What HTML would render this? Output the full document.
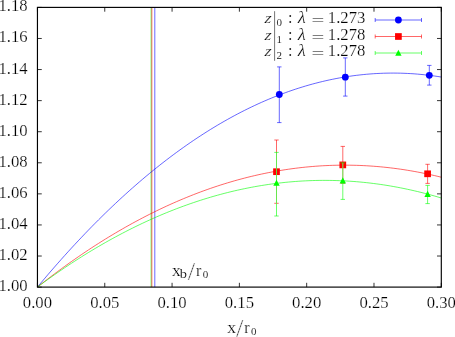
<!DOCTYPE html>
<html><head><meta charset="utf-8"><title>plot</title>
<style>html,body{margin:0;padding:0;background:#fff;}svg{display:block;}text{font-family:"Liberation Serif",serif;fill:#000;}</style>
</head><body>
<svg width="455" height="337" viewBox="0 0 455 337">
<rect x="0" y="0" width="455" height="337" fill="#ffffff"/>
<g stroke="#000" stroke-width="0.80" fill="none">
<path d="M37.45 287.10V282.80 M37.45 7.40V11.70"/>
<path d="M104.76 287.10V282.80 M104.76 7.40V11.70"/>
<path d="M172.07 287.10V282.80 M172.07 7.40V11.70"/>
<path d="M239.38 287.10V282.80 M239.38 7.40V11.70"/>
<path d="M306.68 287.10V282.80 M306.68 7.40V11.70"/>
<path d="M373.99 287.10V282.80 M373.99 7.40V11.70"/>
<path d="M441.30 287.10V282.80 M441.30 7.40V11.70"/>
<path d="M37.45 287.10H41.75 M441.30 287.10H437.00"/>
<path d="M37.45 256.02H41.75 M441.30 256.02H437.00"/>
<path d="M37.45 224.94H41.75 M441.30 224.94H437.00"/>
<path d="M37.45 193.87H41.75 M441.30 193.87H437.00"/>
<path d="M37.45 162.79H41.75 M441.30 162.79H437.00"/>
<path d="M37.45 131.71H41.75 M441.30 131.71H437.00"/>
<path d="M37.45 100.63H41.75 M441.30 100.63H437.00"/>
<path d="M37.45 69.56H41.75 M441.30 69.56H437.00"/>
<path d="M37.45 38.48H41.75 M441.30 38.48H437.00"/>
<path d="M37.45 7.40H41.75 M441.30 7.40H437.00"/>
</g>
<path d="M151.10 287.10V7.40" stroke="#00ff00" stroke-width="0.60" fill="none"/>
<path d="M151.85 287.10V7.40" stroke="#ff0000" stroke-width="0.60" fill="none"/>
<path d="M154.80 287.10V7.40" stroke="#0000ff" stroke-width="0.60" fill="none"/>
<polyline points="37.50,287.00 40.89,282.94 44.29,278.91 47.68,274.92 51.07,270.98 54.47,267.07 57.86,263.20 61.25,259.37 64.65,255.58 68.04,251.82 71.43,248.11 74.83,244.44 78.22,240.80 81.61,237.21 85.01,233.65 88.40,230.13 91.79,226.65 95.19,223.21 98.58,219.81 101.97,216.44 105.37,213.12 108.76,209.84 112.15,206.59 115.55,203.38 118.94,200.22 122.33,197.09 125.73,194.00 129.12,190.95 132.51,187.94 135.91,184.96 139.30,182.03 142.69,179.13 146.08,176.28 149.48,173.46 152.87,170.68 156.26,167.94 159.66,165.24 163.05,162.58 166.44,159.96 169.84,157.38 173.23,154.83 176.62,152.33 180.02,149.86 183.41,147.44 186.80,145.05 190.20,142.70 193.59,140.39 196.98,138.12 200.38,135.89 203.77,133.69 207.16,131.54 210.56,129.42 213.95,127.35 217.34,125.31 220.74,123.31 224.13,121.35 227.52,119.43 230.92,117.55 234.31,115.71 237.70,113.90 241.10,112.14 244.49,110.41 247.88,108.73 251.28,107.08 254.67,105.47 258.06,103.90 261.46,102.37 264.85,100.88 268.24,99.43 271.64,98.01 275.03,96.64 278.42,95.30 281.82,94.01 285.21,92.75 288.60,91.53 292.00,90.35 295.39,89.21 298.78,88.11 302.18,87.05 305.57,86.02 308.96,85.04 312.36,84.09 315.75,83.19 319.14,82.32 322.54,81.49 325.93,80.70 329.32,79.95 332.72,79.24 336.11,78.56 339.50,77.93 342.89,77.33 346.29,76.78 349.68,76.26 353.07,75.78 356.47,75.34 359.86,74.94 363.25,74.58 366.65,74.26 370.04,73.98 373.43,73.73 376.83,73.53 380.22,73.36 383.61,73.23 387.01,73.15 390.40,73.10 393.79,73.09 397.19,73.12 400.58,73.18 403.97,73.29 407.37,73.44 410.76,73.62 414.15,73.84 417.55,74.11 420.94,74.41 424.33,74.75 427.73,75.13 431.12,75.55 434.51,76.00 437.91,76.50 441.30,77.04" stroke="#0000ff" stroke-width="0.60" fill="none"/>
<polyline points="37.50,287.00 40.89,284.32 44.29,281.67 47.68,279.06 51.07,276.47 54.47,273.91 57.86,271.38 61.25,268.88 64.65,266.41 68.04,263.97 71.43,261.56 74.83,259.18 78.22,256.83 81.61,254.51 85.01,252.22 88.40,249.96 91.79,247.73 95.19,245.53 98.58,243.36 101.97,241.21 105.37,239.10 108.76,237.02 112.15,234.97 115.55,232.94 118.94,230.95 122.33,228.99 125.73,227.05 129.12,225.15 132.51,223.27 135.91,221.43 139.30,219.61 142.69,217.83 146.08,216.07 149.48,214.35 152.87,212.65 156.26,210.99 159.66,209.35 163.05,207.74 166.44,206.17 169.84,204.62 173.23,203.10 176.62,201.61 180.02,200.16 183.41,198.73 186.80,197.33 190.20,195.96 193.59,194.62 196.98,193.31 200.38,192.03 203.77,190.78 207.16,189.56 210.56,188.37 213.95,187.21 217.34,186.08 220.74,184.98 224.13,183.91 227.52,182.87 230.92,181.86 234.31,180.87 237.70,179.92 241.10,179.00 244.49,178.11 247.88,177.24 251.28,176.41 254.67,175.61 258.06,174.83 261.46,174.09 264.85,173.38 268.24,172.69 271.64,172.04 275.03,171.41 278.42,170.82 281.82,170.25 285.21,169.71 288.60,169.21 292.00,168.73 295.39,168.29 298.78,167.87 302.18,167.48 305.57,167.12 308.96,166.80 312.36,166.50 315.75,166.23 319.14,165.99 322.54,165.78 325.93,165.61 329.32,165.46 332.72,165.34 336.11,165.25 339.50,165.19 342.89,165.16 346.29,165.16 349.68,165.19 353.07,165.25 356.47,165.34 359.86,165.45 363.25,165.60 366.65,165.78 370.04,165.99 373.43,166.23 376.83,166.49 380.22,166.79 383.61,167.12 387.01,167.47 390.40,167.86 393.79,168.28 397.19,168.72 400.58,169.20 403.97,169.70 407.37,170.24 410.76,170.80 414.15,171.40 417.55,172.02 420.94,172.68 424.33,173.36 427.73,174.07 431.12,174.82 434.51,175.59 437.91,176.39 441.30,177.23" stroke="#ff0000" stroke-width="0.60" fill="none"/>
<polyline points="37.50,287.00 40.89,284.49 44.29,282.02 47.68,279.57 51.07,277.16 54.47,274.77 57.86,272.41 61.25,270.09 64.65,267.79 68.04,265.52 71.43,263.29 74.83,261.08 78.22,258.90 81.61,256.75 85.01,254.63 88.40,252.54 91.79,250.49 95.19,248.46 98.58,246.46 101.97,244.49 105.37,242.55 108.76,240.64 112.15,238.76 115.55,236.91 118.94,235.09 122.33,233.30 125.73,231.54 129.12,229.81 132.51,228.11 135.91,226.43 139.30,224.79 142.69,223.18 146.08,221.60 149.48,220.05 152.87,218.52 156.26,217.03 159.66,215.57 163.05,214.14 166.44,212.73 169.84,211.36 173.23,210.02 176.62,208.70 180.02,207.42 183.41,206.16 186.80,204.94 190.20,203.74 193.59,202.58 196.98,201.44 200.38,200.34 203.77,199.26 207.16,198.22 210.56,197.20 213.95,196.21 217.34,195.26 220.74,194.33 224.13,193.43 227.52,192.57 230.92,191.73 234.31,190.92 237.70,190.15 241.10,189.40 244.49,188.68 247.88,187.99 251.28,187.33 254.67,186.70 258.06,186.10 261.46,185.54 264.85,185.00 268.24,184.49 271.64,184.01 275.03,183.56 278.42,183.14 281.82,182.75 285.21,182.39 288.60,182.06 292.00,181.75 295.39,181.48 298.78,181.24 302.18,181.03 305.57,180.85 308.96,180.70 312.36,180.57 315.75,180.48 319.14,180.42 322.54,180.39 325.93,180.38 329.32,180.41 332.72,180.47 336.11,180.55 339.50,180.67 342.89,180.81 346.29,180.99 349.68,181.20 353.07,181.43 356.47,181.70 359.86,181.99 363.25,182.32 366.65,182.67 370.04,183.05 373.43,183.47 376.83,183.91 380.22,184.39 383.61,184.89 387.01,185.42 390.40,185.98 393.79,186.58 397.19,187.20 400.58,187.85 403.97,188.53 407.37,189.25 410.76,189.99 414.15,190.76 417.55,191.56 420.94,192.39 424.33,193.25 427.73,194.14 431.12,195.06 434.51,196.01 437.91,196.99 441.30,198.00" stroke="#00ff00" stroke-width="0.60" fill="none"/>
<path d="M279.30 66.90V122.60 M277.10 66.90H281.50 M277.10 122.60H281.50" stroke="#0000ff" stroke-width="0.60" fill="none"/>
<path d="M345.30 57.90V96.10 M343.10 57.90H347.50 M343.10 96.10H347.50" stroke="#0000ff" stroke-width="0.60" fill="none"/>
<path d="M429.30 65.40V85.10 M427.10 65.40H431.50 M427.10 85.10H431.50" stroke="#0000ff" stroke-width="0.60" fill="none"/>
<circle cx="279.30" cy="94.50" r="3.4" fill="#0000ff"/>
<circle cx="345.30" cy="77.20" r="3.4" fill="#0000ff"/>
<circle cx="429.30" cy="75.30" r="3.4" fill="#0000ff"/>
<path d="M276.50 140.00V203.30 M274.30 140.00H278.70 M274.30 203.30H278.70" stroke="#ff0000" stroke-width="0.60" fill="none"/>
<path d="M342.80 146.40V183.40 M340.60 146.40H345.00 M340.60 183.40H345.00" stroke="#ff0000" stroke-width="0.60" fill="none"/>
<path d="M427.60 164.30V183.40 M425.40 164.30H429.80 M425.40 183.40H429.80" stroke="#ff0000" stroke-width="0.60" fill="none"/>
<rect x="273.15" y="168.35" width="6.70" height="6.70" fill="#ff0000"/>
<rect x="339.45" y="161.55" width="6.70" height="6.70" fill="#ff0000"/>
<rect x="424.25" y="170.45" width="6.70" height="6.70" fill="#ff0000"/>
<path d="M276.50 152.40V216.00" stroke="#fff" stroke-width="0.60" fill="none"/>
<path d="M276.50 152.40V216.00 M274.30 152.40H278.70 M274.30 216.00H278.70" stroke="#00ff00" stroke-width="0.60" fill="none"/>
<path d="M342.80 162.80V199.40" stroke="#fff" stroke-width="0.60" fill="none"/>
<path d="M342.80 162.80V199.40 M340.60 162.80H345.00 M340.60 199.40H345.00" stroke="#00ff00" stroke-width="0.60" fill="none"/>
<path d="M427.60 185.40V203.60" stroke="#fff" stroke-width="0.60" fill="none"/>
<path d="M427.60 185.40V203.60 M425.40 185.40H429.80 M425.40 203.60H429.80" stroke="#00ff00" stroke-width="0.60" fill="none"/>
<path d="M276.50 179.70L273.30 185.80L279.70 185.80Z" fill="#00ff00"/>
<path d="M342.80 177.30L339.60 183.40L346.00 183.40Z" fill="#00ff00"/>
<path d="M427.60 190.80L424.40 196.90L430.80 196.90Z" fill="#00ff00"/>
<path d="M375.20 20.00H421.50 M375.20 18.00V22.00 M421.50 18.00V22.00" stroke="#0000ff" stroke-width="0.60" fill="none"/>
<circle cx="398.40" cy="20.00" r="3.4" fill="#0000ff"/>
<path d="M375.20 36.50H421.50 M375.20 34.50V38.50 M421.50 34.50V38.50" stroke="#ff0000" stroke-width="0.60" fill="none"/>
<rect x="395.05" y="33.15" width="6.70" height="6.70" fill="#ff0000"/>
<path d="M375.20 53.00H421.50 M375.20 51.00V55.00 M421.50 51.00V55.00" stroke="#00ff00" stroke-width="0.60" fill="none"/>
<path d="M398.40 49.70L395.20 55.80L401.60 55.80Z" fill="#00ff00"/>
<rect x="37.45" y="7.40" width="403.85" height="279.70" fill="none" stroke="#000" stroke-width="1.15"/>
<defs><filter id="gs" x="0" y="0" width="455" height="337" filterUnits="userSpaceOnUse" color-interpolation-filters="sRGB"><feColorMatrix type="saturate" values="0"/></filter></defs>
<g font-size="16.0" filter="url(#gs)" stroke="#fff" stroke-width="0.20">
<text x="27.7" y="291.10" text-anchor="end" font-size="16.7">1.00</text>
<text x="27.7" y="260.02" text-anchor="end" font-size="16.7">1.02</text>
<text x="27.7" y="228.94" text-anchor="end" font-size="16.7">1.04</text>
<text x="27.7" y="197.87" text-anchor="end" font-size="16.7">1.06</text>
<text x="27.7" y="166.79" text-anchor="end" font-size="16.7">1.08</text>
<text x="27.7" y="135.71" text-anchor="end" font-size="16.7">1.10</text>
<text x="27.7" y="104.63" text-anchor="end" font-size="16.7">1.12</text>
<text x="27.7" y="73.56" text-anchor="end" font-size="16.7">1.14</text>
<text x="27.7" y="42.48" text-anchor="end" font-size="16.7">1.16</text>
<text x="27.7" y="11.40" text-anchor="end" font-size="16.7">1.18</text>
<text x="37.45" y="307.5" text-anchor="middle" font-size="16.7">0.00</text>
<text x="104.76" y="307.5" text-anchor="middle" font-size="16.7">0.05</text>
<text x="172.07" y="307.5" text-anchor="middle" font-size="16.7">0.10</text>
<text x="239.38" y="307.5" text-anchor="middle" font-size="16.7">0.15</text>
<text x="306.68" y="307.5" text-anchor="middle" font-size="16.7">0.20</text>
<text x="373.99" y="307.5" text-anchor="middle" font-size="16.7">0.25</text>
<text x="441.30" y="307.5" text-anchor="middle" font-size="16.7">0.30</text>
<text transform="translate(227.20 332.50) scale(1.1 1)">x</text>
<text transform="translate(236.10 336.70) scale(1.05 1)" font-size="25.3" stroke-width="0.55">/</text>
<text x="244.30" y="332.50">r</text>
<text x="251.00" y="334.90" font-size="11" stroke-width="0.1">0</text>
<text transform="translate(171.90 276.00) scale(1.1 1)">x</text>
<text transform="translate(179.70 278.10) scale(1.2 1)" font-size="12" stroke-width="0.1">b</text>
<text transform="translate(187.80 280.20) scale(1.05 1)" font-size="25.3" stroke-width="0.55">/</text>
<text x="196.00" y="276.00">r</text>
<text x="202.70" y="278.40" font-size="11" stroke-width="0.1">0</text>
<text transform="translate(264.2 23.40) scale(1.12 1) skewX(-6)" font-style="italic" font-size="15.5">z</text>
<path d="M274.6 11.20V27.80" stroke="#000" stroke-width="0.55"/>
<text x="276.5" y="26.40" font-size="11" stroke-width="0.1">0</text>
<text x="288.0" y="23.40">:</text>
<text transform="translate(297.7 23.40) scale(1.12 1)" font-style="italic" font-size="16.5">λ</text>
<text transform="translate(311.4 26.40) scale(1.42 1)">=</text>
<text x="365.4" y="23.40" text-anchor="end" font-size="16.7">1.273</text>
<text transform="translate(264.2 39.90) scale(1.12 1) skewX(-6)" font-style="italic" font-size="15.5">z</text>
<path d="M274.6 27.70V44.30" stroke="#000" stroke-width="0.55"/>
<text x="276.5" y="42.90" font-size="11" stroke-width="0.1">1</text>
<text x="288.0" y="39.90">:</text>
<text transform="translate(297.7 39.90) scale(1.12 1)" font-style="italic" font-size="16.5">λ</text>
<text transform="translate(311.4 42.90) scale(1.42 1)">=</text>
<text x="365.4" y="39.90" text-anchor="end" font-size="16.7">1.278</text>
<text transform="translate(264.2 56.40) scale(1.12 1) skewX(-6)" font-style="italic" font-size="15.5">z</text>
<path d="M274.6 44.20V60.80" stroke="#000" stroke-width="0.55"/>
<text x="276.5" y="59.40" font-size="11" stroke-width="0.1">2</text>
<text x="288.0" y="56.40">:</text>
<text transform="translate(297.7 56.40) scale(1.12 1)" font-style="italic" font-size="16.5">λ</text>
<text transform="translate(311.4 59.40) scale(1.42 1)">=</text>
<text x="365.4" y="56.40" text-anchor="end" font-size="16.7">1.278</text>
</g>
</svg>
</body></html>
